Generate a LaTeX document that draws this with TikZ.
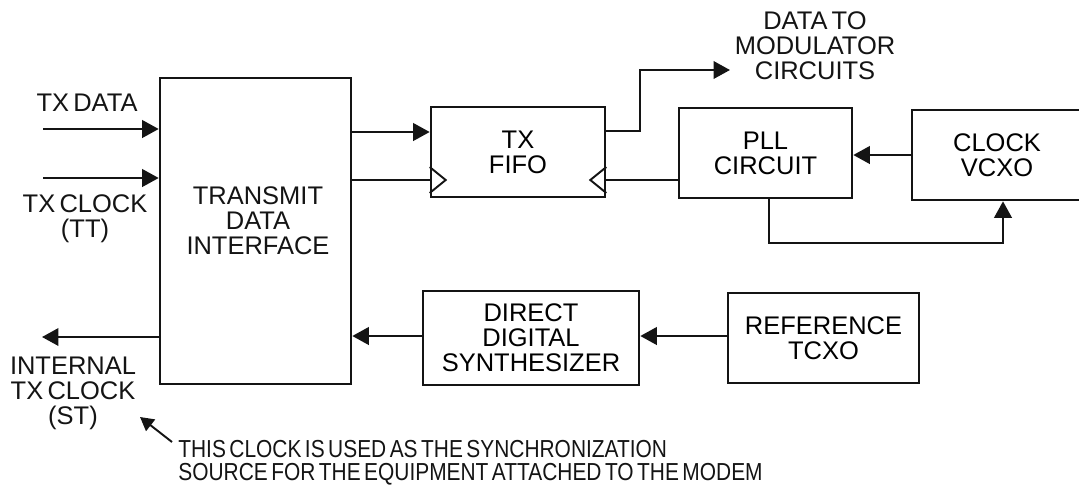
\documentclass[tikz,border=0pt]{standalone}
\usepackage{fontspec}
\setmainfont[WordSpace=0.6]{Liberation Sans}
\newfontfamily\notefamily[FakeStretch=0.85,WordSpace=0.6]{Liberation Sans}
\usepackage{tikz}
\usetikzlibrary{arrows.meta,calc}
\definecolor{inkline}{RGB}{20,20,20}
\newcommand{\blkfont}{\fontsize{14.5}{14.2}\selectfont}
\tikzset{
  blk/.style={draw=inkline,line width=1.5pt,inner sep=0pt,align=center,font=\blkfont},
  lbl/.style={align=center,inner sep=0pt,font=\blkfont,text=inkline},
  note/.style={align=left,inner sep=0pt,font=\notefamily\fontsize{14}{13}\selectfont,text=inkline},
  sig/.style={-{Triangle[length=3.3mm,width=3.5mm]},line width=1.3pt,draw=inkline},
  wire/.style={line width=1.3pt,draw=inkline},
  ptr/.style={-{Triangle[length=2.7mm,width=2.9mm]},line width=1.1pt,draw=inkline},
  clk/.style={line width=1.1pt,draw=inkline}
}

\begin{document}
\begin{tikzpicture}[x=0.02cm,y=-0.02cm]
  \useasboundingbox (0,0) rectangle (1079,491);
  \node[blk,minimum width=3.82cm,minimum height=6.12cm] (tdi) at (255.5,231) {};
  \node[lbl] (tditxt) at (258,221) {TRANSMIT\\DATA\\INTERFACE};
  \node[blk,minimum width=3.48cm,minimum height=1.8cm] (fifo) at (518,152) {TX\\FIFO};
  \node[blk,minimum width=3.46cm,minimum height=1.8cm] (pll) at (765.5,153) {PLL\\CIRCUIT};
  \node[blk,minimum width=3.4cm,minimum height=1.8cm] (vcxo) at (997,155) {CLOCK\\VCXO};
  \node[blk,minimum width=4.32cm,minimum height=1.88cm] (dds) at (531,338) {DIRECT\\DIGITAL\\SYNTHESIZER};
  \node[blk,minimum width=3.82cm,minimum height=1.8cm] (tcxo) at (823.5,338) {REFERENCE\\TCXO};

  \node[lbl] (txdata) at (87,103) {TX DATA};
  \node[lbl] (txclock) at (85,219) {TX CLOCK\\(TT)};
  \node[lbl] (intclock) at (73,393) {INTERNAL\\TX CLOCK\\(ST)};
  \node[lbl] (modout) at (815,46) {DATA TO\\MODULATOR\\CIRCUITS};
  \node[note,anchor=west] (syncnote) at (178,463) {THIS CLOCK IS USED AS THE SYNCHRONIZATION\\SOURCE FOR THE EQUIPMENT ATTACHED TO THE MODEM};

  \coordinate (datain) at (43,129);
  \coordinate (clkin) at (43,178);
  \coordinate (stout) at (42,337);
  \coordinate (modtip) at (730,70);
  \coordinate (notetip) at (140,417);
  \coordinate (notetail) at (172,442);

  \draw[sig] (datain) -- (datain -| tdi.west);
  \draw[sig] (clkin) -- (clkin -| tdi.west);
  \draw[sig] (tdi.east |- 0,132) -- (fifo.west |- 0,132);
  \draw[wire] (tdi.east |- 0,180) -- (fifo.west |- 0,180);
  \draw[sig] (fifo.east |- 0,131) -- (640,131) -- (640,70) -- (modtip);
  \draw[wire] (pll.west |- 0,180) -- (fifo.east |- 0,180);
  \draw[sig] (vcxo.west |- 0,155) -- (pll.east |- 0,155);
  \draw[sig] (pll.south -| 769,0) -- (769,243) -- (1003,243) -- (vcxo.south -| 1003,0);
  \draw[sig] (tcxo.west |- 0,336) -- (dds.east |- 0,336);
  \draw[sig] (dds.west |- 0,336) -- (tdi.east |- 0,336);
  \draw[sig] (tdi.west |- stout) -- (stout);
  \draw[ptr] (notetail) -- (notetip);

  \draw[clk] ($(fifo.west |- 0,180)+(0,-13)$) -- ($(fifo.west |- 0,180)+(16,0)$) -- ($(fifo.west |- 0,180)+(0,13)$);
  \draw[clk] ($(fifo.east |- 0,180)+(0,-13)$) -- ($(fifo.east |- 0,180)+(-16,0)$) -- ($(fifo.east |- 0,180)+(0,13)$);
\end{tikzpicture}
\end{document}
